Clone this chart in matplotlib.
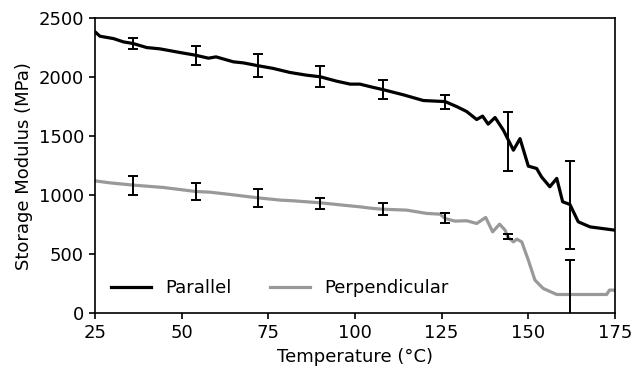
import matplotlib
matplotlib.use("Agg")
import matplotlib.pyplot as plt

# Parallel curve
par_T = [25, 26.4, 30.3, 33.2, 36, 39.9, 43.7, 49.5, 54, 57.7, 59.9, 64.9, 67.8, 72, 76.4,
         81.2, 86, 90, 94.7, 98.6, 101.4, 105, 108, 114, 119.7, 126, 129.3, 132.2, 135.1,
         136.8, 138.4, 140.4, 142.8, 145.7, 147.6, 150, 152.4, 153.8, 156.2, 158.2, 159.9,
         162, 164.4, 167.8, 175]
par_E = [2384, 2347, 2327, 2299, 2285, 2251, 2240, 2209, 2186, 2161, 2172, 2130, 2121, 2097, 2074,
         2040, 2017, 2003, 1966, 1941, 1941, 1915, 1895, 1850, 1802, 1793, 1751, 1709, 1641,
         1670, 1602, 1658, 1551, 1381, 1479, 1246, 1226, 1155, 1071, 1142, 944,
         921, 774, 731, 703]

# Perpendicular curve
perp_T = [25, 29.3, 36, 44.7, 54, 58.2, 63.9, 72, 78.4, 82.2, 90, 97.6, 101.4, 105.3, 108,
          114.9, 120.7, 124.5, 126, 128.8, 132.2, 135.1, 137.7, 139.7, 141.7, 143.3, 144,
          145.7, 146.7, 148.1, 150, 151.9, 154.3, 158.2, 162, 172.6, 173.4, 175]
perp_E = [1121, 1104, 1085, 1065, 1031, 1025, 1006, 977, 958, 952, 935, 912, 901, 887, 881,
          873, 845, 839, 802, 780, 783, 760, 811, 689, 754, 703, 647,
          604, 627, 604, 449, 280, 209, 158, 158, 158, 195, 195]

# Error bars
err_T = [36, 54, 72, 90, 108, 126, 144, 162]
par_err_mean = [2285, 2186, 2100, 2003, 1897, 1790, 1455, 915]
par_err = [50, 80, 100, 90, 83, 62, 252, 375]
perp_err_mean = [1079, 1034, 975, 930, 884, 803, 647, 158]
perp_err = [82, 73, 74, 50, 53, 42, 22, 296]

FS = 13

fig = plt.figure(figsize=(6.34, 3.71), dpi=100)
ax = fig.add_axes([0.150, 0.156, 0.820, 0.795])

ax.plot(par_T, par_E, color="black", lw=2.3, label="Parallel")
ax.plot(perp_T, perp_E, color="#999999", lw=2.3, label="Perpendicular")
ax.errorbar(err_T, par_err_mean, yerr=par_err, fmt="none", ecolor="black",
            elinewidth=1.4, capsize=3.5, capthick=1.4)
ax.errorbar(err_T, perp_err_mean, yerr=perp_err, fmt="none", ecolor="black",
            elinewidth=1.4, capsize=3.5, capthick=1.4)

ax.set_xlim(25, 175)
ax.set_ylim(0, 2500)
ax.set_xticks([25, 50, 75, 100, 125, 150, 175])
ax.set_yticks([0, 500, 1000, 1500, 2000, 2500])
ax.tick_params(labelsize=FS, width=1.2, length=4.5)
for s in ax.spines.values():
    s.set_linewidth(1.2)
ax.set_xlabel("Temperature (°C)", fontsize=FS)
ax.set_ylabel("Storage Modulus (MPa)", fontsize=FS)
ax.legend(loc="lower left", ncol=2, frameon=False, fontsize=FS,
          handlelength=2.2, handletextpad=0.8, columnspacing=2.1)

fig.savefig("out.png", dpi=100)
